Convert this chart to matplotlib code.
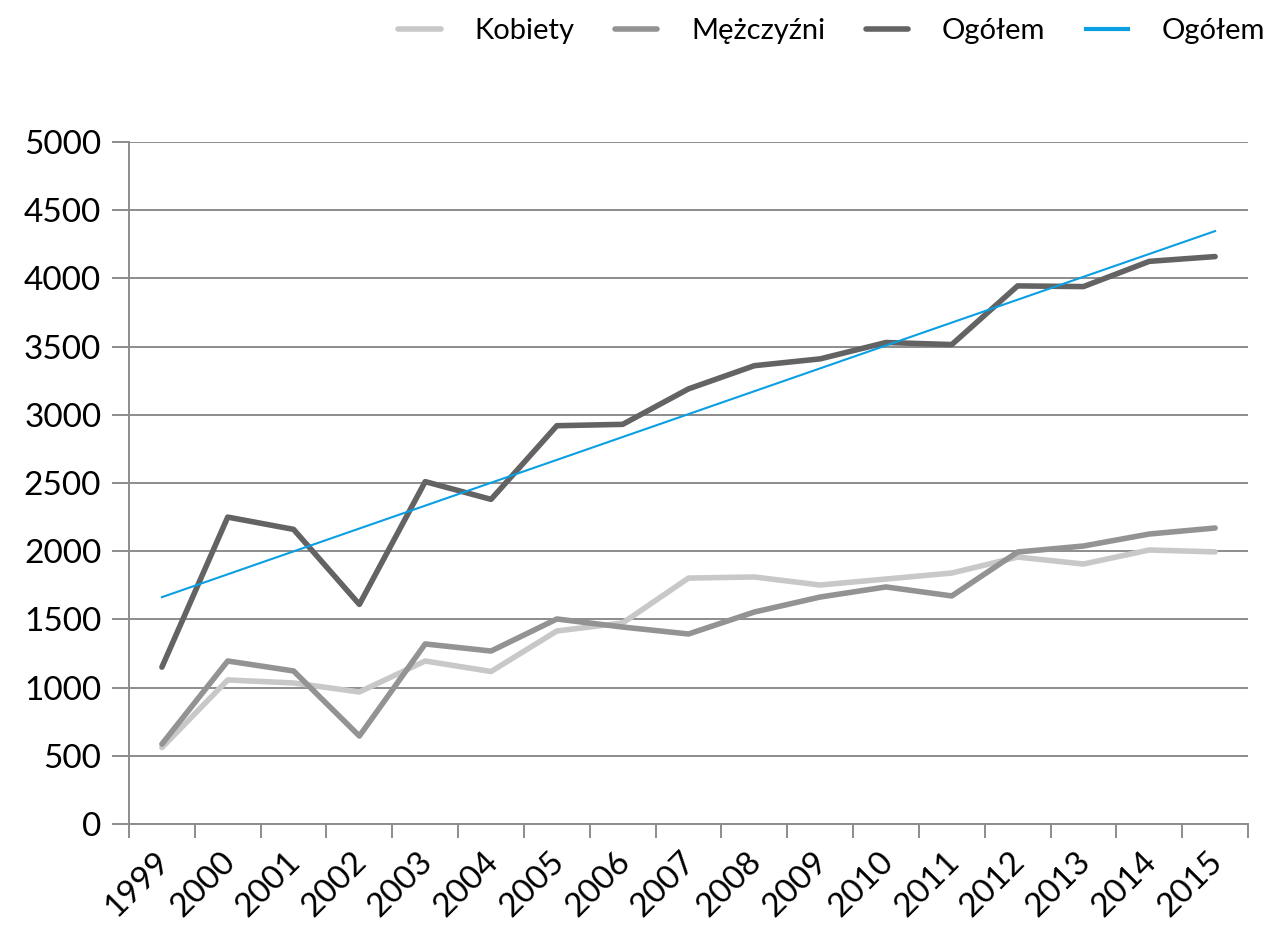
import numpy as np
import matplotlib
matplotlib.use("Agg")
import matplotlib.pyplot as plt
import matplotlib.transforms as mtransforms

years = ["1999", "2000", "2001", "2002", "2003", "2004", "2005", "2006", "2007",
         "2008", "2009", "2010", "2011", "2012", "2013", "2014", "2015"]
kobiety = [560, 1056, 1034, 968, 1195, 1118, 1415, 1474, 1803, 1811, 1752, 1796,
           1840, 1957, 1906, 2009, 1995]
mezczyzni = [586, 1195, 1122, 645, 1320, 1268, 1503, 1444, 1393, 1554, 1664, 1738,
             1672, 1994, 2038, 2126, 2170]
ogolem = [1150, 2250, 2160, 1610, 2510, 2380, 2920, 2930, 3190, 3360, 3410, 3530,
          3515, 3945, 3940, 4125, 4160]
labels = ["Kobiety", "Mężczyźni", "Ogółem", "Ogółem"]
yticks = [0, 500, 1000, 1500, 2000, 2500, 3000, 3500, 4000, 4500, 5000]

plt.rcParams['font.family'] = ['Lato', 'DejaVu Sans']

W, H = 1271, 925
fig = plt.figure(figsize=(W / 100, H / 100), dpi=100)
ax = fig.add_axes([129 / W, 1 - 824 / H, (1248 - 129) / W, (824 - 142) / H])

x = np.arange(len(years))
grid_c = "#8c8c8c"
lw = 4.0
ax.plot(x, kobiety, color="#c8c8c8", lw=lw, solid_capstyle="round",
        solid_joinstyle="round", label=labels[0], zorder=3)
ax.plot(x, mezczyzni, color="#939393", lw=lw, solid_capstyle="round",
        solid_joinstyle="round", label=labels[1], zorder=4)
ax.plot(x, ogolem, color="#636363", lw=lw, solid_capstyle="round",
        solid_joinstyle="round", label=labels[2], zorder=5)
coef = np.polyfit(x, ogolem, 1)
ax.plot(x, np.polyval(coef, x), color="#0a9fe2", lw=1.5, label=labels[3], zorder=6)

ax.set_xlim(-0.5, len(years) - 0.5)
ax.set_ylim(0, 5000)
ax.set_yticks(yticks)
ax.set_yticklabels([str(v) for v in yticks], fontsize=24)
ax.yaxis.grid(True, color=grid_c, lw=1.4)
ax.set_axisbelow(True)

ax.set_xticks(np.arange(-0.5, len(years), 1.0))
ax.set_xticklabels([])
ax.set_xticks(x, minor=True)
ax.set_xticklabels(years, minor=True, rotation=45, ha="right", va="top",
                   rotation_mode="anchor", fontsize=24)
ax.tick_params(axis="x", which="minor", length=0, pad=16)
ax.tick_params(axis="x", which="major", length=10, width=1.4, color=grid_c)
ax.tick_params(axis="y", length=12, width=1.4, color=grid_c, pad=8)

for s in ["top", "right"]:
    ax.spines[s].set_visible(False)
for s in ["left", "bottom"]:
    ax.spines[s].set_color(grid_c)
    ax.spines[s].set_linewidth(1.4)

offset = mtransforms.ScaledTranslation(-8 / 100, 0, fig.dpi_scale_trans)
for lab in ax.get_xticklabels(minor=True):
    lab.set_transform(lab.get_transform() + offset)

leg = fig.legend(loc="upper right", bbox_to_anchor=(1.0, 1.0 - 12 / H), ncol=4,
                 frameon=False, fontsize=21, handlelength=1.45, handletextpad=1.15,
                 columnspacing=1.4, borderpad=0.1, borderaxespad=0.1)
for h in leg.get_lines():
    h.set_linewidth(4.0)
leg.get_lines()[3].set_linewidth(3.0)

fig.savefig("out.png", dpi=100)
